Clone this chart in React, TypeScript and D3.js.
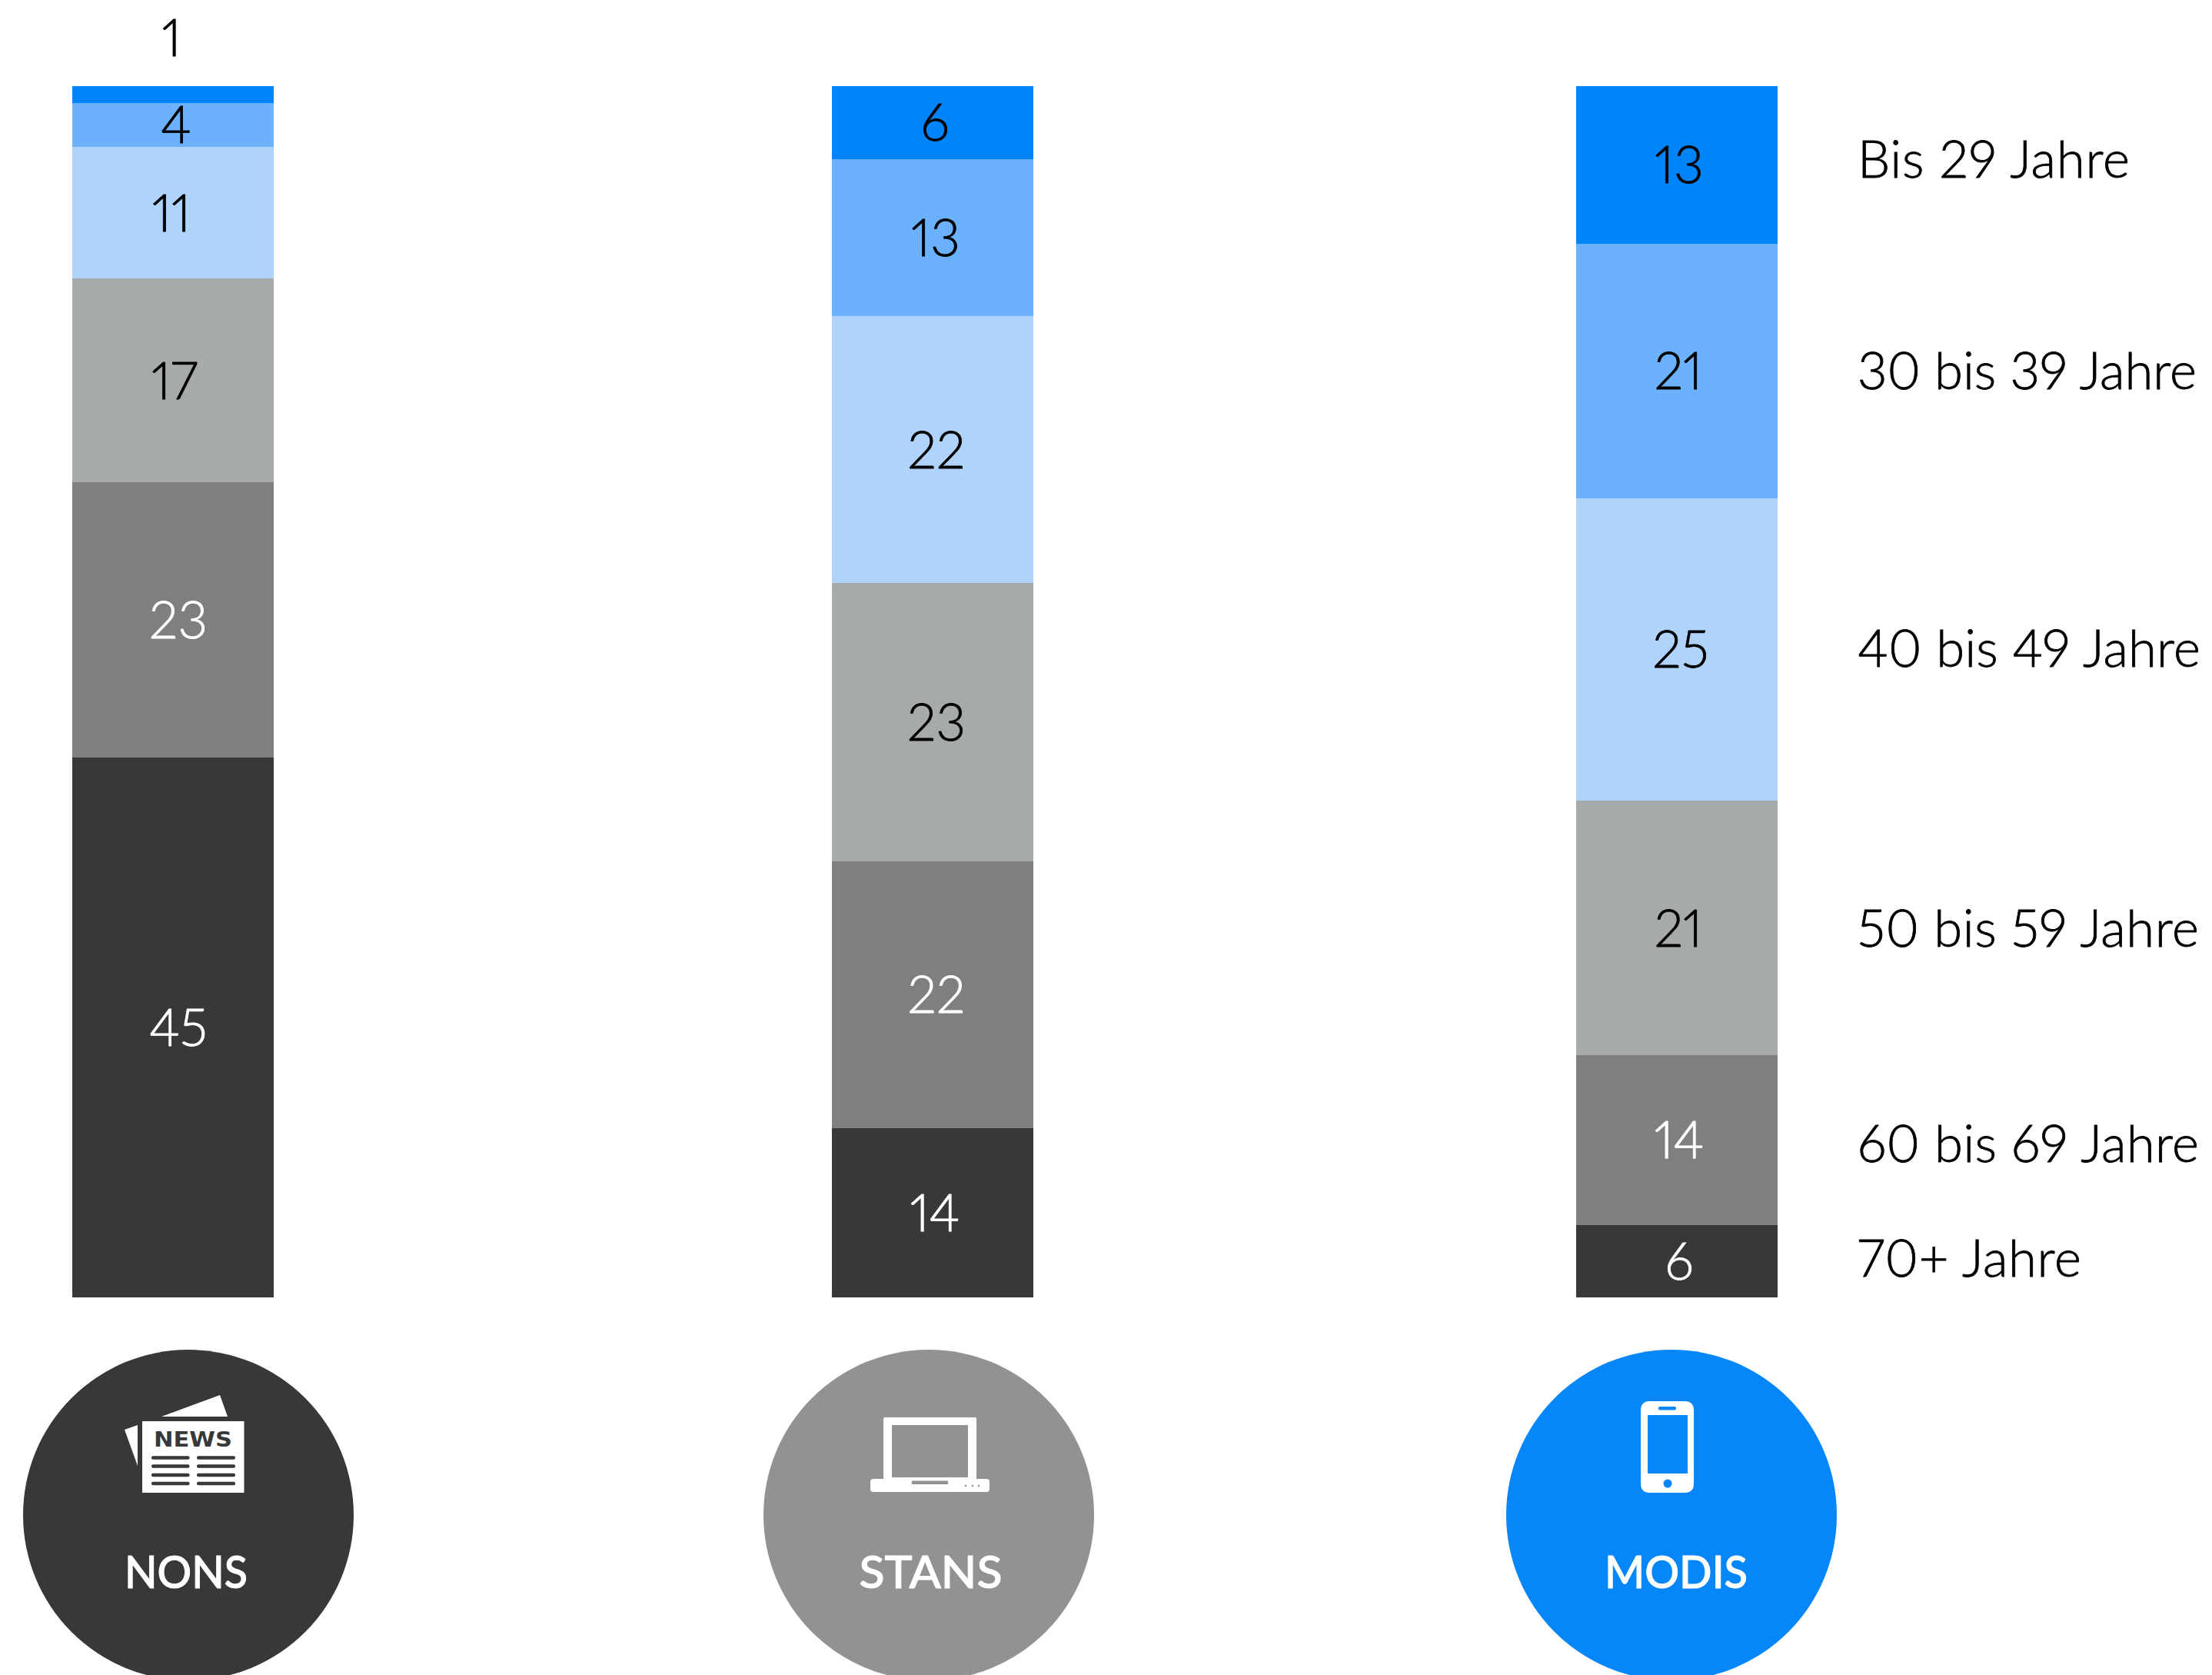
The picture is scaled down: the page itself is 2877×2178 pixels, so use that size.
import React from "react";
import * as d3 from "d3";

const W = 2877;
const H = 2178;

const groups = ["NONS", "STANS", "MODIS"];
const ageLabels = ["Bis 29 Jahre", "30 bis 39 Jahre", "40 bis 49 Jahre", "50 bis 59 Jahre", "60 bis 69 Jahre", "70+ Jahre"];
const nons = [1.4, 3.6, 10.9, 16.8, 22.7, 44.6];
const stans = [6, 13, 22, 23, 22, 14];
const modis = [13, 21, 25, 21, 14, 6];
const ageColors = ["#0084f9", "#6cb1fb", "#b0d3fc", "#a6aaab", "#7f7f7f", "#383838"];
const labelColors = ["#000", "#000", "#000", "#000", "#fff", "#fff"];
const circleColors = ["#383838", "#929292", "#0586f9"];

const FONT = "Lato, 'Open Sans', sans-serif";
const allSeries = [nons, stans, modis];

const y = d3.scaleLinear().domain([0, 100]).range([112, 1687]);
const barX = d3.scaleOrdinal<string, number>().domain(groups).range([94, 1082, 2050]);
const circleX = d3.scaleOrdinal<string, number>().domain(groups).range([245, 1208, 2174]);
const titleX = d3.scaleOrdinal<string, number>().domain(groups).range([242, 1210.5, 2180]);
const BAR_W = 262;
const LEGEND_DY = [-7, 0, -1, 0, 5, -4];
const LEGEND_W = [354, 441, 446, 444, 444, 291];
const TITLE_W = [160, 186, 186];
const LABEL_DX = [[-2, 4, -2, 2, 7, 7], [3, 4, 5, 5, 5, 3], [3, 2, 5, 2, 3, 3]];

function stack(values: number[]) {
  const cum = d3.cumsum(values);
  return values.map((v, i) => ({ v, i, y0: y(i ? cum[i - 1] : 0), y1: y(cum[i]) }));
}

function NewsIcon({ fill }: { fill: string }) {
  return (
    <g>
      <polygon points="210,1842 286,1814 296,1842" fill="#fff" />
      <polygon points="162,1859 179,1853 179,1906" fill="#fff" />
      <rect x={185} y={1848} width={132.5} height={93} fill="#fff" />
      <text x={251} y={1881} textAnchor="middle" fontFamily="'DejaVu Sans', sans-serif" fontWeight={700} fontSize={27} fill={fill} textLength={102} lengthAdjust="spacingAndGlyphs">NEWS</text>
      {[1895.5, 1906.5, 1918, 1929].map((ly) => (
        <g key={ly}>
          <rect x={197} y={ly - 2.3} width={49.5} height={4.6} rx={2} fill={fill} />
          <rect x={256} y={ly - 2.3} width={50} height={4.6} rx={2} fill={fill} />
        </g>
      ))}
    </g>
  );
}

function LaptopIcon({ fill }: { fill: string }) {
  return (
    <g>
      <path d="M1151,1843H1268a2,2 0 0 1 2,2V1925H1149V1845a2,2 0 0 1 2,-2ZM1160,1853V1921H1259V1853Z" fill="#fff" fillRule="evenodd" />
      <rect x={1132} y={1923} width={155} height={17} rx={4} fill="#fff" />
      <rect x={1186} y={1925.5} width={47} height={4.5} fill={fill} />
      {[1256, 1265, 1273].map((cx) => <circle key={cx} cx={cx} cy={1932} r={1.3} fill={fill} />)}
    </g>
  );
}

function PhoneIcon({ fill }: { fill: string }) {
  return (
    <g>
      <rect x={2134} y={1822} width={69} height={119} rx={10} fill="#fff" />
      <rect x={2143} y={1840} width={52} height={76} rx={1} fill={fill} />
      <rect x={2157} y={1829} width={23} height={4.5} rx={2} fill={fill} />
      <circle cx={2169} cy={1929} r={5.5} fill={fill} />
    </g>
  );
}

const icons = [NewsIcon, LaptopIcon, PhoneIcon];
const numStyle = { fontVariantNumeric: "proportional-nums" } as const;

export default function App() {
  const modisStack = stack(modis);
  return (
    <svg width={W} height={H} viewBox={`0 0 ${W} ${H}`} style={{ position: "absolute", left: 0, top: 0, background: "#fff" }}>
      {groups.map((g, gi) => {
        const x = barX(g);
        return (
          <g key={g}>
            {stack(allSeries[gi]).map((s) => (
              <rect key={s.i} x={x} y={s.y0} width={BAR_W} height={s.y1 - s.y0} fill={ageColors[s.i]} shapeRendering="crispEdges" />
            ))}
            {stack(allSeries[gi]).map((s) => {
              const thin = s.y1 - s.y0 < 30;
              const col = thin ? "#000" : labelColors[s.i];
              return (
                <text key={s.i} x={x + BAR_W / 2 + LABEL_DX[gi][s.i]} y={thin ? 73 : (s.y0 + s.y1) / 2 + 24} textAnchor="middle"
                  fontFamily={FONT} fontWeight={300} fontSize={67} fill={col} stroke={col} strokeWidth={0.8} style={numStyle}>
                  {Math.round(s.v)}
                </text>
              );
            })}
          </g>
        );
      })}
      {modisStack.map((s) => (
        <text key={s.i} x={2416} y={(s.y0 + s.y1) / 2 + 24 + LEGEND_DY[s.i]} fontFamily={FONT} fontWeight={300} fontSize={67} fill="#000" stroke="#000" strokeWidth={0.8}
          textLength={LEGEND_W[s.i]} style={numStyle}>
          {ageLabels[s.i]}
        </text>
      ))}
      {groups.map((g, gi) => {
        const Icon = icons[gi];
        return (
          <g key={g}>
            <circle cx={circleX(g)} cy={1970} r={215} fill={circleColors[gi]} />
            <Icon fill={circleColors[gi]} />
            <text x={titleX(g)} y={2065} textAnchor="middle" fontFamily={FONT} fontWeight={500} fontSize={58} fill="#fff" stroke="#fff" strokeWidth={1} textLength={TITLE_W[gi]} lengthAdjust="spacingAndGlyphs">{g}</text>
          </g>
        );
      })}
    </svg>
  );
}
